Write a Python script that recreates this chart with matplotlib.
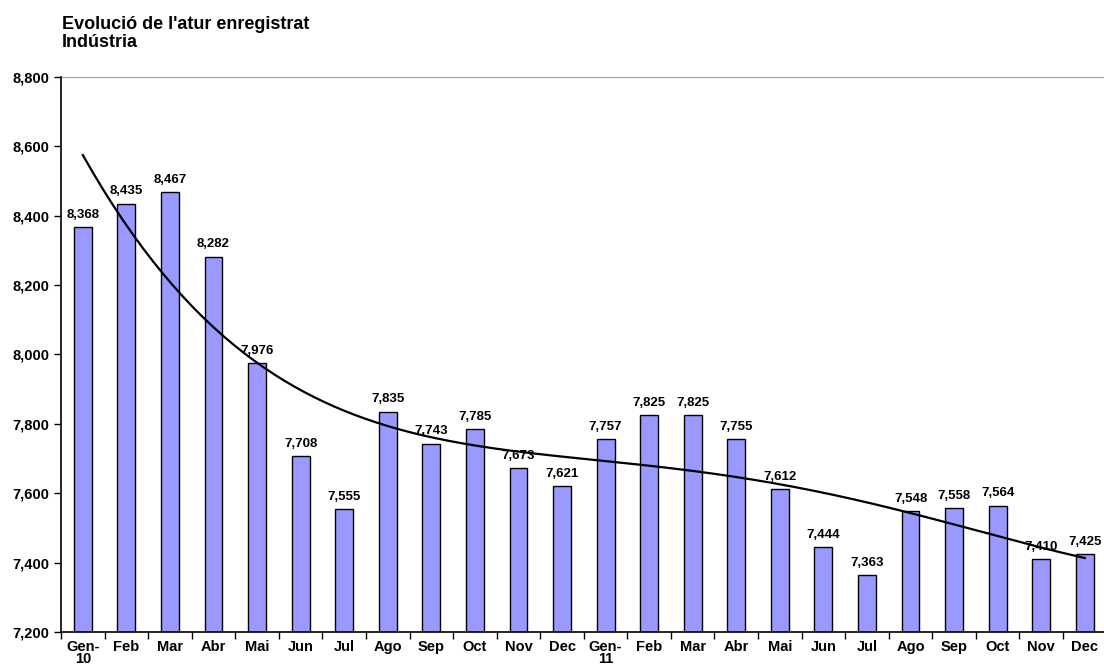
import numpy as np
import matplotlib
matplotlib.use("Agg")
import matplotlib.pyplot as plt
from matplotlib.ticker import FuncFormatter

plt.rcParams['font.family'] = ['Liberation Sans', 'DejaVu Sans']

months = ["Gen-\n10", "Feb", "Mar", "Abr", "Mai", "Jun", "Jul", "Ago", "Sep", "Oct", "Nov", "Dec",
          "Gen-\n11", "Feb", "Mar", "Abr", "Mai", "Jun", "Jul", "Ago", "Sep", "Oct", "Nov", "Dec"]
atur = [8368, 8435, 8467, 8282, 7976, 7708, 7555, 7835, 7743, 7785, 7673, 7621,
        7757, 7825, 7825, 7755, 7612, 7444, 7363, 7548, 7558, 7564, 7410, 7425]

fig = plt.figure(figsize=(11.04, 6.67), dpi=100)
ax = fig.add_axes([0.0553, 0.0525, 0.947, 0.8321])

x = np.arange(len(atur))
ax.bar(x, atur, width=0.41, color='#9999FF', edgecolor='black', linewidth=1.0, zorder=2)

# polynomial trend line (order 4), as in the spreadsheet
coef = np.polyfit(x, atur, 4)
xs = np.linspace(0, len(atur) - 1, 200)
ax.plot(xs, np.polyval(coef, xs), color='black', linewidth=1.6, zorder=3)

for xi, v in zip(x, atur):
    ax.text(xi, v + 18, f"{v:,}", ha='center', va='bottom', fontsize=9.5,
            fontweight='bold', zorder=4)

ax.set_xlim(-0.5, len(atur) - 0.5)
ax.set_ylim(7200, 8800)
ax.set_yticks(np.arange(7200, 8801, 200))
ax.yaxis.set_major_formatter(FuncFormatter(lambda v, p: f"{int(v):,}"))
ax.axhline(8800, color='#a0a0a0', linewidth=1.5, zorder=1)

ax.set_xticks(x)
ax.set_xticklabels(months, fontweight='bold', fontsize=10.5, linespacing=0.8)
ax.set_xticks(np.arange(-0.5, len(atur), 1), minor=True)
ax.tick_params(axis='x', which='major', length=0, pad=6)
ax.tick_params(axis='x', which='minor', length=5, width=1, direction='out')
ax.tick_params(axis='y', length=5, width=1, direction='out', labelsize=10.5)
for lab in ax.get_yticklabels():
    lab.set_fontweight('bold')

for s in ['top', 'right']:
    ax.spines[s].set_visible(False)
ax.spines['left'].set_linewidth(1.2)
ax.spines['bottom'].set_linewidth(1.2)

fig.text(0.0562, 0.95, "Evolució de l'atur enregistrat\nIndústria", fontsize=13,
         fontweight='bold', va='center', ha='left', linespacing=1.1)

fig.savefig("out.png", dpi=100)
